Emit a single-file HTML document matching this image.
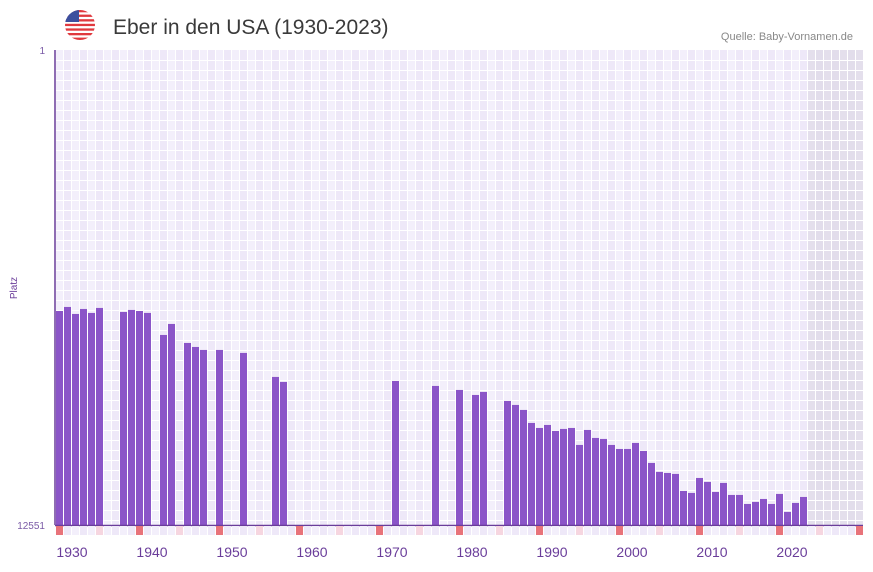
<!DOCTYPE html>
<html><head><meta charset="utf-8"><style>
body{margin:0;background:#fff;width:873px;height:567px;overflow:hidden;font-family:"Liberation Sans",sans-serif}
</style></head><body>
<svg id="c" width="873" height="567" xmlns="http://www.w3.org/2000/svg">
<g>
<clipPath id="fc"><circle cx="80" cy="25" r="15"/></clipPath>
<g clip-path="url(#fc)">
<rect x="65" y="10" width="30" height="30" fill="#fff"/>
<rect x="65" y="10" width="30" height="2.3" fill="#e0393e"/><rect x="65" y="14.6" width="30" height="2.3" fill="#e0393e"/><rect x="65" y="19.2" width="30" height="2.3" fill="#e0393e"/><rect x="65" y="23.8" width="30" height="2.3" fill="#e0393e"/><rect x="65" y="28.4" width="30" height="2.3" fill="#e0393e"/><rect x="65" y="33" width="30" height="2.3" fill="#e0393e"/><rect x="65" y="37.6" width="30" height="2.4" fill="#e0393e"/>
<rect x="65" y="10" width="14" height="12" fill="#3c4f9e"/>
</g></g>
<text x="113" y="34" font-size="21" fill="#3a3a3a">Eber in den USA (1930-2023)</text>
<text x="853" y="40" font-size="11" fill="#888" text-anchor="end">Quelle: Baby-Vornamen.de</text>
<text x="45" y="54" font-size="10" fill="#7a5aa6" text-anchor="end">1</text>
<text x="45" y="529" font-size="10" fill="#7a5aa6" text-anchor="end">12551</text>
<text transform="translate(17,288) rotate(-90)" font-size="10" fill="#6a3d9a" text-anchor="middle">Platz</text>
<g id="grid"></g><g id="bars"></g><g id="marks"></g><g id="xl"></g>
</svg>
<script>
const years=[1928,1929,1930,1931,1932,1933,1936,1937,1938,1939,1941,1942,1944,1945,1946,1948,1951,1955,1956,1970,1975,1978,1980,1981,1984,1985,1986,1987,1988,1989,1990,1991,1992,1993,1994,1995,1996,1997,1998,1999,2000,2001,2002,2003,2004,2005,2006,2007,2008,2009,2010,2011,2012,2013,2014,2015,2016,2017,2018,2019,2020,2021];
const ranks=[6897,6790,6975,6843,6948,6816,6922,6869,6897,6948,7530,7239,7741,7847,7926,7926,8005,8639,8771,8745,8877,8983,9115,9036,9273,9379,9511,9855,9987,9908,10066,10013,9987,10436,10040,10251,10277,10436,10542,10542,10383,10594,10911,11149,11176,11202,11651,11704,11308,11413,11678,11440,11757,11757,11995,11942,11863,11995,11730,12206,11968,11810];
const xTicks=[1930,1940,1950,1960,1970,1980,1990,2000,2010,2020];
const rankMin=1, rankMax=12551, yearStart=1928, yearEnd=2028, dataEnd=2021;
const L=56,T=50,B=525,CW=8;
const X=y=>L+(y-yearStart)*CW;
const Y=r=>T+(r-rankMin)/(rankMax-rankMin)*(B-T);
const ns="http://www.w3.org/2000/svg";
function mk(p,t,a){const e=document.createElementNS(ns,t);for(const k in a)e.setAttribute(k,a[k]);p.appendChild(e);return e;}
const g=document.getElementById('grid');
const bg=mk(g,'rect',{x:55,y:T,width:808,height:B-T,fill:'#f3effb'});


for(let yr=yearStart;yr<=yearEnd;yr++){
 const c=mk(g,'rect',{x:X(yr),y:T,width:CW,height:B-T,fill:(yr%2? '#eee8f8':'#f3effb')});
 
 
}
const sh=mk(g,'rect',{x:X(dataEnd+1),y:T,width:863-X(dataEnd+1),height:B-T,fill:'#ddd8e6',opacity:0.7});


for(let yr=yearStart;yr<=yearEnd+1;yr++){mk(g,'line',{x1:X(yr)-0.5,x2:X(yr)-0.5,y1:T,y2:B,stroke:'#fff','stroke-width':1});}
for(let yy=T+10;yy<B;yy+=10){mk(g,'line',{x1:55,x2:863,y1:yy+0.5,y2:yy+0.5,stroke:'#fff','stroke-width':1});}
const bs=document.getElementById('bars');
years.forEach((yr,i)=>{const y0=Y(ranks[i]);
 const r=mk(bs,'rect',{x:X(yr),y:y0,width:CW-1,height:B-y0,fill:'#8b55c8'});
 
 
});
const ax=mk(bs,'line',{x1:55,x2:55,y1:T,y2:B,stroke:'#6a3d9a','stroke-width':1.5});


const bx=mk(bs,'line',{x1:55,x2:863,y1:B+0.5,y2:B+0.5,stroke:'#6a3d9a','stroke-width':1.5});


const m=document.getElementById('marks');
for(let yr=yearStart;yr<=yearEnd;yr++){
 const d=(yr-yearStart)%10;
 let f=(yr%2?'#eee8f8':'#f3effb');
 if(d===0)f='#e8737a'; else if(d===5)f='#f6d6e0';
 const r=mk(m,'rect',{x:X(yr),y:B+1,width:CW-1,height:9,fill:f});
 
 
}
const xl=document.getElementById('xl');
xTicks.forEach(t=>{const e=mk(xl,'text',{x:X(t),y:557,'font-size':14,fill:'#6a3d9a','text-anchor':'middle'});e.textContent=t;
 
 
});
</script>
</body></html>
